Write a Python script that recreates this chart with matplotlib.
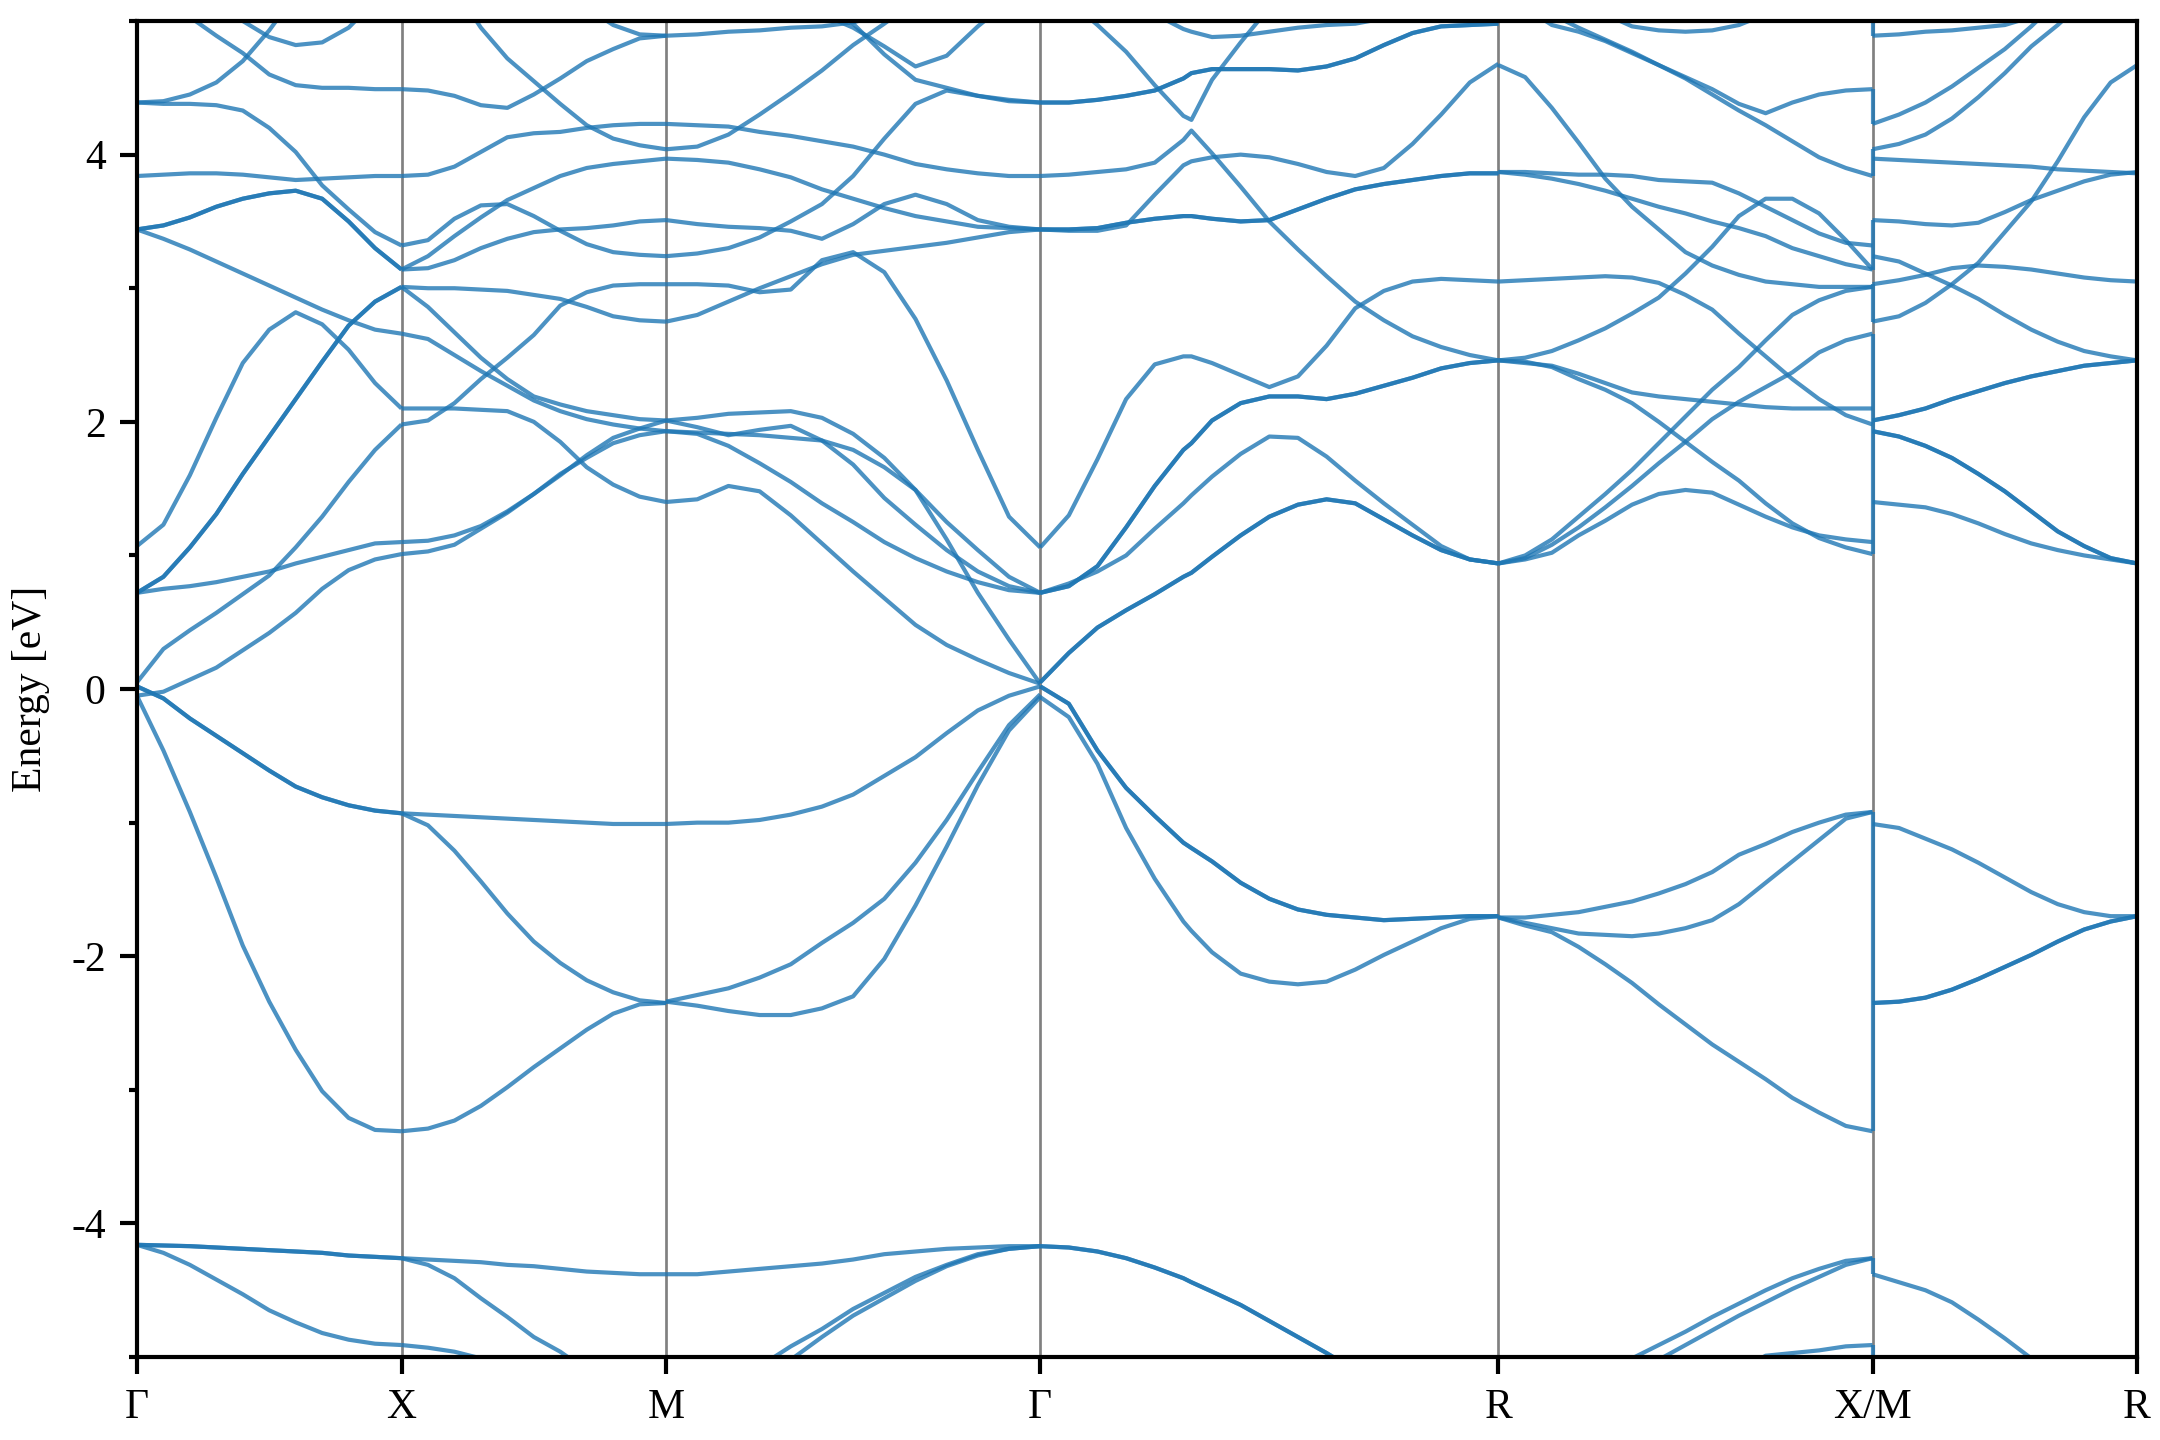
import numpy as np
import matplotlib
matplotlib.use("Agg")
import matplotlib.pyplot as plt
from matplotlib.ticker import MultipleLocator

plt.rcParams["font.family"] = ["Liberation Serif", "DejaVu Serif"]
plt.rcParams["font.size"] = 10
plt.rcParams["axes.unicode_minus"] = False

nan = np.nan

# k-path Gamma-X-M-Gamma-R-X|M-R, segment lengths in units of |Gamma-X|
k_labels = ["Γ", "X", "M", "Γ", "R", "X/M", "R"]
k_len = [1.0, 1.0, 1.414, 1.732, 1.414, 1.0]

# ---- Gamma -> X (fractions along segment, energies in eV) ----
gx_t = np.linspace(0, 1, 11)
gx_bands = [
    [1.07, 1.23, 1.60, 2.03, 2.44, 2.69, 2.82, 2.73, 2.54, 2.29, 2.10],
    [0.72, 0.84, 1.06, 1.31, 1.61, 1.89, 2.17, 2.45, 2.72, 2.90, 3.01],
    [0.72, 0.75, 0.77, 0.80, 0.84, 0.88, 0.94, 0.99, 1.04, 1.09, 1.10],
    [0.05, 0.30, 0.44, 0.57, 0.71, 0.85, 1.06, 1.29, 1.55, 1.79, 1.98],
    [-0.05, -0.02, 0.07, 0.16, 0.29, 0.42, 0.57, 0.75, 0.89, 0.97, 1.01],
    [0.02, -0.07, -0.22, -0.35, -0.48, -0.61, -0.73, -0.81, -0.87, -0.91, -0.93],
    [-0.05, -0.46, -0.92, -1.41, -1.92, -2.34, -2.70, -3.01, -3.21, -3.30, -3.31],
    [-4.16, -4.165, -4.17, -4.18, -4.19, -4.20, -4.21, -4.22, -4.24, -4.25, -4.26],
    [-4.16, -4.22, -4.31, -4.42, -4.53, -4.65, -4.74, -4.82, -4.87, -4.90, -4.91],
    [3.44, 3.37, 3.29, 3.20, 3.11, 3.02, 2.93, 2.84, 2.76, 2.69, 2.66],
    [3.44, 3.47, 3.53, 3.61, 3.67, 3.71, 3.73, 3.67, 3.50, 3.30, 3.14],
    [3.84, 3.85, 3.86, 3.86, 3.85, 3.83, 3.81, 3.82, 3.83, 3.84, 3.84],
    [4.39, 4.38, 4.38, 4.37, 4.33, 4.20, 4.02, 3.77, 3.59, 3.42, 3.32],
    [4.39, 4.40, 4.45, 4.54, 4.70, 4.93, 5.20, nan, nan, nan, nan],
    [nan, 5.30, 5.03, 4.89, 4.76, 4.60, 4.52, 4.50, 4.50, 4.49, 4.49],
    [nan, nan, nan, 5.15, 5.00, 4.88, 4.82, 4.84, 4.95, 5.15, nan],
]
gx_deg = [1, 2, 1, 1, 1, 2, 1, 2, 1, 1, 2, 1, 1, 1, 1, 1]

# ---- X -> M ----
xm_t = np.linspace(0, 1, 11)
xm_bands = [
    [4.49, 4.48, 4.44, 4.37, 4.35, 4.45, 4.57, 4.70, 4.79, 4.87, 4.89],
    [nan, nan, 5.25, 4.95, 4.72, 4.55, 4.38, 4.22, 4.12, 4.07, 4.04],
    [nan, nan, nan, nan, nan, nan, nan, 5.10, 4.97, 4.90, 4.89],
    [3.84, 3.85, 3.91, 4.02, 4.13, 4.16, 4.17, 4.20, 4.22, 4.23, 4.23],
    [3.32, 3.36, 3.52, 3.62, 3.63, 3.54, 3.43, 3.33, 3.27, 3.25, 3.24],
    [3.14, 3.24, 3.39, 3.53, 3.66, 3.75, 3.84, 3.90, 3.93, 3.95, 3.97],
    [3.14, 3.15, 3.21, 3.30, 3.37, 3.42, 3.44, 3.45, 3.47, 3.50, 3.51],
    [3.01, 3.00, 3.00, 2.99, 2.98, 2.95, 2.92, 2.86, 2.79, 2.76, 2.75],
    [3.01, 2.86, 2.67, 2.48, 2.32, 2.19, 2.13, 2.08, 2.05, 2.02, 2.01],
    [2.66, 2.62, 2.50, 2.38, 2.27, 2.16, 2.08, 2.02, 1.98, 1.95, 1.93],
    [1.98, 2.01, 2.14, 2.32, 2.48, 2.65, 2.87, 2.97, 3.02, 3.03, 3.03],
    [2.10, 2.10, 2.10, 2.09, 2.08, 2.00, 1.85, 1.66, 1.53, 1.44, 1.40],
    [1.10, 1.11, 1.15, 1.22, 1.33, 1.46, 1.60, 1.75, 1.88, 1.95, 2.01],
    [1.01, 1.03, 1.08, 1.20, 1.32, 1.46, 1.61, 1.73, 1.84, 1.90, 1.93],
    [-0.93, -0.94, -0.95, -0.96, -0.97, -0.98, -0.99, -1.00, -1.01, -1.01, -1.01],
    [-0.93, -1.02, -1.21, -1.44, -1.68, -1.89, -2.05, -2.18, -2.27, -2.33, -2.35],
    [-3.31, -3.29, -3.23, -3.12, -2.98, -2.83, -2.69, -2.55, -2.43, -2.36, -2.35],
    [-4.26, -4.27, -4.28, -4.29, -4.31, -4.32, -4.34, -4.36, -4.37, -4.38, -4.38],
    [-4.26, -4.31, -4.41, -4.56, -4.70, -4.85, -4.96, -5.10, nan, nan, nan],
    [-4.91, -4.93, -4.96, -5.01, -5.10, nan, nan, nan, nan, nan, nan],
]
xm_deg = [1] * len(xm_bands)

# ---- M -> Gamma ----
mg_t = np.linspace(0, 1, 13)
mg_bands = [
    [4.89, 4.90, 4.92, 4.93, 4.95, 4.96, 4.99, 5.05, nan, nan, nan, nan, nan],
    [nan, nan, nan, nan, nan, 5.05, 4.95, 4.81, 4.66, 4.74, 4.96, 5.15, nan],
    [nan, nan, nan, nan, nan, 5.15, 4.98, 4.75, 4.56, 4.50, 4.44, 4.41, 4.39],
    [4.23, 4.22, 4.21, 4.17, 4.14, 4.10, 4.06, 4.00, 3.93, 3.89, 3.86, 3.84, 3.84],
    [4.04, 4.06, 4.15, 4.30, 4.46, 4.63, 4.82, 4.98, 5.15, nan, nan, nan, nan],
    [3.97, 3.96, 3.94, 3.89, 3.83, 3.74, 3.67, 3.60, 3.54, 3.50, 3.46, 3.45, 3.44],
    [3.51, 3.48, 3.46, 3.45, 3.43, 3.37, 3.48, 3.63, 3.70, 3.63, 3.51, 3.46, 3.44],
    [3.24, 3.26, 3.30, 3.38, 3.50, 3.63, 3.84, 4.12, 4.38, 4.48, 4.44, 4.40, 4.39],
    [3.03, 3.03, 3.02, 2.97, 2.99, 3.21, 3.27, 3.12, 2.77, 2.31, 1.79, 1.29, 1.06],
    [2.75, 2.80, 2.90, 3.00, 3.09, 3.18, 3.25, 3.28, 3.31, 3.34, 3.38, 3.42, 3.44],
    [2.01, 2.03, 2.06, 2.07, 2.08, 2.03, 1.91, 1.73, 1.49, 1.12, 0.72, 0.37, 0.04],
    [1.93, 1.92, 1.91, 1.90, 1.88, 1.86, 1.79, 1.66, 1.49, 1.25, 1.04, 0.84, 0.72],
    [2.01, 1.96, 1.90, 1.94, 1.97, 1.86, 1.68, 1.43, 1.23, 1.04, 0.88, 0.77, 0.72],
    [1.93, 1.91, 1.82, 1.69, 1.55, 1.39, 1.25, 1.10, 0.98, 0.88, 0.80, 0.74, 0.72],
    [1.40, 1.42, 1.52, 1.48, 1.30, 1.09, 0.88, 0.68, 0.48, 0.33, 0.22, 0.12, 0.04],
    [-1.01, -1.00, -1.00, -0.98, -0.94, -0.88, -0.79, -0.65, -0.51, -0.33, -0.16, -0.05, 0.02],
    [-2.34, -2.29, -2.24, -2.16, -2.06, -1.90, -1.75, -1.57, -1.30, -0.98, -0.62, -0.27, -0.04],
    [-2.34, -2.37, -2.41, -2.44, -2.44, -2.39, -2.30, -2.02, -1.62, -1.18, -0.72, -0.31, -0.06],
    [-4.38, -4.38, -4.36, -4.34, -4.32, -4.30, -4.27, -4.23, -4.21, -4.19, -4.18, -4.17, -4.17],
    [nan, nan, nan, -5.07, -4.92, -4.79, -4.64, -4.52, -4.40, -4.31, -4.23, -4.19, -4.17],
    [nan, nan, nan, -5.15, -5.02, -4.85, -4.69, -4.56, -4.43, -4.32, -4.24, -4.19, -4.17],
]
mg_deg = [1] * len(mg_bands)

# ---- Gamma -> R ----
gr_t = [0, 0.0625, 0.125, 0.1875, 0.25, 0.3125, 0.33, 0.375, 0.4375, 0.5,
        0.5625, 0.625, 0.6875, 0.75, 0.8125, 0.875, 0.9375, 1]
gr_bands = [
    [0.05, 0.27, 0.46, 0.59, 0.71, 0.84, 0.87, 0.99, 1.15, 1.29, 1.38, 1.42, 1.39, 1.27, 1.15, 1.04, 0.97, 0.94],
    [1.06, 1.30, 1.72, 2.17, 2.43, 2.49, 2.49, 2.44, 2.35, 2.26, 2.34, 2.57, 2.85, 2.98, 3.05, 3.07, 3.06, 3.05],
    [0.72, 0.77, 0.92, 1.21, 1.52, 1.79, 1.84, 2.01, 2.14, 2.19, 2.19, 2.17, 2.21, 2.27, 2.33, 2.40, 2.44, 2.46],
    [0.72, 0.79, 0.88, 1.00, 1.20, 1.39, 1.45, 1.59, 1.76, 1.89, 1.88, 1.74, 1.56, 1.39, 1.23, 1.07, 0.97, 0.94],
    [3.44, 3.44, 3.45, 3.49, 3.52, 3.54, 3.54, 3.52, 3.50, 3.51, 3.59, 3.67, 3.74, 3.78, 3.81, 3.84, 3.86, 3.86],
    [3.44, 3.43, 3.43, 3.47, 3.70, 3.92, 3.95, 3.98, 4.00, 3.98, 3.93, 3.87, 3.84, 3.90, 4.08, 4.30, 4.54, 4.68],
    [3.84, 3.85, 3.87, 3.89, 3.94, 4.11, 4.18, 4.01, 3.76, 3.50, 3.29, 3.09, 2.90, 2.76, 2.64, 2.56, 2.50, 2.46],
    [nan, 5.15, 4.97, 4.77, 4.52, 4.29, 4.26, 4.56, 4.84, 5.10, nan, nan, nan, nan, nan, nan, nan, nan],
    [4.39, 4.39, 4.41, 4.44, 4.48, 4.57, 4.61, 4.64, 4.64, 4.64, 4.63, 4.66, 4.72, 4.82, 4.91, 4.96, 4.97, 4.98],
    [nan, nan, nan, nan, 5.05, 4.94, 4.92, 4.88, 4.89, 4.92, 4.95, 4.97, 4.98, 5.02, nan, nan, nan, nan],
    [0.02, -0.11, -0.46, -0.74, -0.95, -1.15, -1.19, -1.29, -1.45, -1.57, -1.65, -1.69, -1.71, -1.73, -1.72, -1.71, -1.70, -1.70],
    [-0.06, -0.21, -0.56, -1.04, -1.42, -1.74, -1.81, -1.97, -2.13, -2.19, -2.21, -2.19, -2.10, -1.99, -1.89, -1.79, -1.72, -1.70],
    [-4.17, -4.18, -4.21, -4.26, -4.33, -4.41, -4.44, -4.51, -4.61, -4.73, -4.85, -4.97, -5.10, nan, nan, nan, nan, nan],
]
gr_deg = [2, 1, 2, 1, 2, 1, 1, 1, 2, 1, 2, 1, 2]

# ---- R -> X ----
rx_t = np.linspace(0, 1, 15)
rx_bands = [
    [0.94, 0.97, 1.02, 1.15, 1.26, 1.38, 1.46, 1.49, 1.47, 1.38, 1.29, 1.21, 1.15, 1.12, 1.10],
    [0.94, 0.98, 1.08, 1.21, 1.36, 1.52, 1.69, 1.85, 2.02, 2.15, 2.26, 2.37, 2.52, 2.61, 2.66],
    [0.94, 1.00, 1.12, 1.29, 1.46, 1.64, 1.84, 2.04, 2.24, 2.41, 2.61, 2.80, 2.91, 2.98, 3.01],
    [2.46, 2.45, 2.41, 2.32, 2.24, 2.14, 2.00, 1.85, 1.70, 1.56, 1.39, 1.24, 1.13, 1.06, 1.01],
    [2.46, 2.44, 2.42, 2.36, 2.29, 2.22, 2.19, 2.17, 2.15, 2.13, 2.11, 2.10, 2.10, 2.10, 2.10],
    [2.46, 2.48, 2.53, 2.61, 2.70, 2.81, 2.93, 3.11, 3.31, 3.54, 3.67, 3.67, 3.56, 3.36, 3.14],
    [3.87, 3.87, 3.86, 3.85, 3.85, 3.84, 3.81, 3.80, 3.79, 3.71, 3.61, 3.51, 3.41, 3.34, 3.32],
    [3.87, 3.85, 3.82, 3.78, 3.73, 3.67, 3.61, 3.56, 3.50, 3.45, 3.39, 3.30, 3.24, 3.18, 3.14],
    [3.05, 3.06, 3.07, 3.08, 3.09, 3.08, 3.04, 2.95, 2.84, 2.66, 2.49, 2.32, 2.17, 2.05, 1.98],
    [4.67, 4.58, 4.35, 4.09, 3.82, 3.61, 3.44, 3.27, 3.17, 3.10, 3.05, 3.03, 3.01, 3.01, 3.01],
    [nan, 5.10, 4.97, 4.92, 4.85, 4.76, 4.67, 4.58, 4.49, 4.38, 4.31, 4.39, 4.45, 4.48, 4.49],
    [nan, nan, 5.05, 4.95, 4.86, 4.77, 4.67, 4.57, 4.45, 4.33, 4.22, 4.10, 3.98, 3.90, 3.84],
    [nan, nan, nan, nan, 5.05, 4.96, 4.93, 4.92, 4.93, 4.97, 5.05, nan, nan, nan, nan],
    [-1.71, -1.71, -1.69, -1.67, -1.63, -1.59, -1.53, -1.46, -1.37, -1.24, -1.16, -1.07, -1.00, -0.94, -0.92],
    [-1.71, -1.75, -1.79, -1.83, -1.84, -1.85, -1.83, -1.79, -1.73, -1.61, -1.45, -1.29, -1.13, -0.97, -0.92],
    [-1.71, -1.77, -1.82, -1.93, -2.06, -2.20, -2.36, -2.51, -2.66, -2.79, -2.92, -3.06, -3.17, -3.27, -3.31],
    [nan, nan, nan, nan, -5.15, -5.01, -4.91, -4.81, -4.70, -4.60, -4.50, -4.41, -4.34, -4.28, -4.26],
    [nan, nan, nan, nan, nan, -5.12, -5.02, -4.91, -4.80, -4.69, -4.59, -4.49, -4.40, -4.31, -4.26],
    [nan, nan, nan, nan, nan, nan, nan, nan, nan, -5.10, -4.99, -4.97, -4.95, -4.92, -4.91],
]
rx_deg = [1] * len(rx_bands)

# ---- M -> R ----
mr_t = np.linspace(0, 1, 11)
mr_bands = [
    [4.89, 4.90, 4.92, 4.93, 4.95, 4.97, 5.03, nan, nan, nan, nan],
    [4.23, 4.30, 4.39, 4.51, 4.65, 4.79, 4.96, 5.15, nan, nan, nan],
    [4.04, 4.08, 4.15, 4.27, 4.43, 4.61, 4.81, 4.97, 5.15, nan, nan],
    [3.97, 3.96, 3.95, 3.94, 3.93, 3.92, 3.91, 3.89, 3.88, 3.87, 3.86],
    [3.51, 3.50, 3.48, 3.47, 3.49, 3.57, 3.66, 3.73, 3.80, 3.85, 3.87],
    [3.24, 3.20, 3.11, 3.02, 2.92, 2.80, 2.69, 2.60, 2.53, 2.49, 2.46],
    [3.03, 3.06, 3.10, 3.15, 3.17, 3.16, 3.14, 3.11, 3.08, 3.06, 3.05],
    [2.75, 2.79, 2.89, 3.03, 3.19, 3.42, 3.65, 3.95, 4.28, 4.54, 4.67],
    [2.01, 2.05, 2.10, 2.17, 2.23, 2.29, 2.34, 2.38, 2.42, 2.44, 2.46],
    [1.93, 1.89, 1.82, 1.73, 1.61, 1.48, 1.33, 1.18, 1.07, 0.98, 0.94],
    [1.40, 1.38, 1.36, 1.31, 1.24, 1.16, 1.09, 1.04, 1.00, 0.97, 0.94],
    [-1.01, -1.04, -1.12, -1.20, -1.30, -1.41, -1.52, -1.61, -1.67, -1.70, -1.70],
    [-2.35, -2.34, -2.31, -2.25, -2.17, -2.08, -1.99, -1.89, -1.80, -1.74, -1.70],
    [-4.38, -4.44, -4.50, -4.59, -4.72, -4.86, -5.01, -5.15, nan, nan, nan],
]
mr_deg = [1, 1, 1, 1, 1, 1, 1, 1, 2, 2, 1, 1, 2, 1]

# vertical jumps of the band lines at the X|M break (low, high)
xm_jumps = [(4.89, 5.05), (4.23, 4.49), (3.84, 4.04), (3.14, 3.51), (2.75, 3.03),
            (1.01, 2.66), (-3.31, -0.92), (-4.38, -4.26), (-5.05, -4.91)]

segments = [(gx_t, gx_bands, gx_deg), (xm_t, xm_bands, xm_deg),
            (mg_t, mg_bands, mg_deg), (gr_t, gr_bands, gr_deg),
            (rx_t, rx_bands, rx_deg), (mr_t, mr_bands, mr_deg)]

band_style = dict(color="C0", alpha=0.8, lw=1.0, solid_capstyle="butt",
                  solid_joinstyle="round")

fig = plt.figure(figsize=(7.2, 4.8), dpi=300)
ax = fig.add_axes([0.0634, 0.0576, 0.926, 0.9278])

k_ticks = np.concatenate([[0.0], np.cumsum(k_len)])
for xk in k_ticks[1:-1]:
    ax.axvline(xk, color="grey", lw=0.65, zorder=0)

for i, (t, bands, deg) in enumerate(segments):
    x = k_ticks[i] + k_len[i] * np.asarray(t)
    for e, d in zip(bands, deg):
        for _ in range(d):
            ax.plot(x, e, **band_style)

for lo, hi in xm_jumps:
    ax.plot([k_ticks[5], k_ticks[5]], [lo, hi], **band_style)

ax.set_xlim(k_ticks[0], k_ticks[-1])
ax.set_ylim(-5, 5)
ax.set_xticks(k_ticks)
ax.set_xticklabels(k_labels)
ax.yaxis.set_major_locator(MultipleLocator(2))
ax.yaxis.set_minor_locator(MultipleLocator(1))
ax.tick_params(which="major", length=4, width=1.0)
ax.tick_params(which="minor", length=2, width=1.0)
for s in ax.spines.values():
    s.set_linewidth(1.0)
ax.set_ylabel("Energy [eV]", labelpad=5)

fig.savefig("out.png", dpi=300)
